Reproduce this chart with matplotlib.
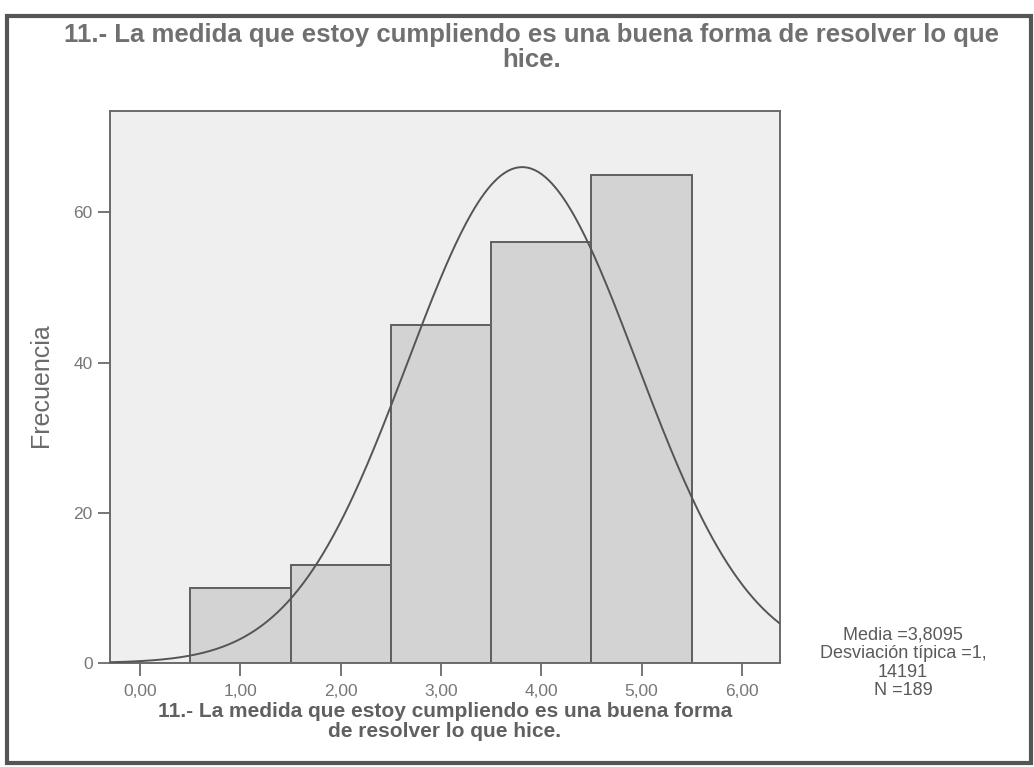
import numpy as np
import matplotlib.pyplot as plt
from matplotlib.patches import Rectangle

# histogram data (values 1..5, counts)
values = [1, 2, 3, 4, 5]
counts = [10, 13, 45, 56, 65]
xtick_vals = [0, 1, 2, 3, 4, 5, 6]
xtick_labels = ["0,00", "1,00", "2,00", "3,00", "4,00", "5,00", "6,00"]
ytick_vals = [0, 20, 40, 60]

title_lines = ["11.- La medida que estoy cumpliendo es una buena forma de resolver lo que", "hice."]
xlabel_lines = ["11.- La medida que estoy cumpliendo es una buena forma", "de resolver lo que hice."]
stats = "Media =3,8095\nDesviación típica =1,\n14191\nN =189"

plt.rcParams['font.family'] = ['Liberation Sans', 'DejaVu Sans']

W, H = 1034, 767
fig = plt.figure(figsize=(W/100, H/100), dpi=100)
ax = fig.add_axes([110/W, 1-663/H, (780-110)/W, (663-111)/H])
ax.set_facecolor("#efefef")

ax.bar(values, counts, width=1.0, color="#d3d3d3", edgecolor="#5f5f5f", linewidth=1.4, zorder=2)

# normal curve fitted from the counts
data = np.repeat(values, counts)
mu, sd, n = data.mean(), data.std(ddof=1), len(data)
xs = np.linspace(-0.3, 6.38, 400)
ys = n * np.exp(-0.5*((xs-mu)/sd)**2) / (sd*np.sqrt(2*np.pi))
ax.plot(xs, ys, color="#555555", lw=1.4, zorder=3)

ax.set_xlim(-0.3, 6.38)
ax.set_ylim(0, 73.5)
ax.set_xticks(xtick_vals)
ax.set_xticklabels(xtick_labels)
ax.set_yticks(ytick_vals)
for s in ax.spines.values():
    s.set_color("#6a6a6a")
    s.set_linewidth(1.4)
ax.tick_params(axis='both', colors="#6a6a6a", labelcolor="#777777", labelsize=12.5, length=9, width=1.3)
ax.tick_params(axis='x', pad=6)
ax.set_ylabel("Frecuencia", fontsize=18, color="#6a6a6a")
ax.yaxis.set_label_coords((53-110)/670, (663-385)/552)

# titles as figure text so the two lines can be placed separately
fig.text(532/W, 1-42/H, title_lines[0], ha='center', va='baseline', fontsize=18.5,
         fontweight='bold', color="#707070")
fig.text(532/W, 1-67/H, title_lines[1], ha='center', va='baseline', fontsize=18.5,
         fontweight='bold', color="#707070")
fig.text(445/W, 1-717/H, xlabel_lines[0], ha='center', va='baseline', fontsize=15,
         fontweight='bold', color="#606060")
fig.text(445/W, 1-737/H, xlabel_lines[1], ha='center', va='baseline', fontsize=15,
         fontweight='bold', color="#606060")
fig.text(903/W, 1-663/H, stats, ha='center', va='center', fontsize=13, color="#5a5a5a", linespacing=1.12)

# outer frame
fig.patches.append(Rectangle((7/W, 1-763/H), (1031-7)/W, (763-16)/H, transform=fig.transFigure,
                             fill=False, edgecolor="#555555", linewidth=3))

fig.savefig("out.png", dpi=100)
